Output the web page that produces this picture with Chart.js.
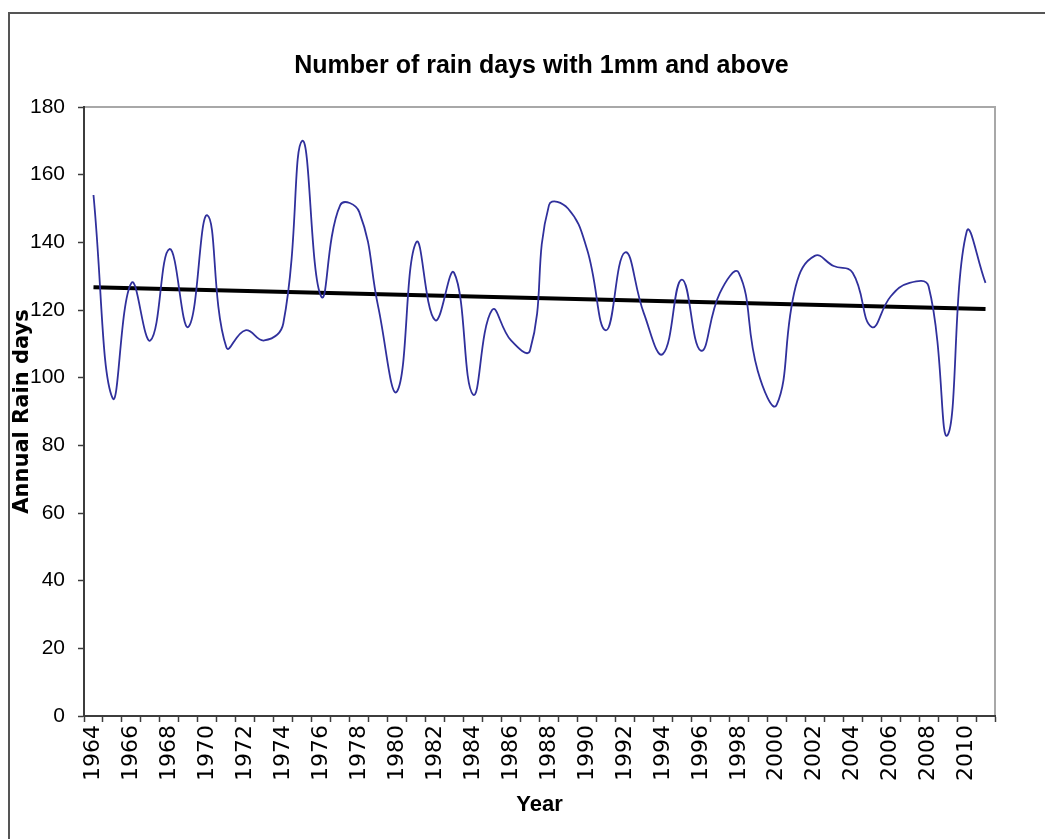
<!DOCTYPE html>
<html>
<head>
<meta charset="utf-8">
<title>Number of rain days with 1mm and above</title>
<script src="https://cdn.jsdelivr.net/npm/chart.js@4.4.1/dist/chart.umd.min.js"></script>
<style>
    html, body { margin: 0; padding: 0; background: #ffffff; }
    #wrap { width: 1045px; height: 839px; }
</style>
</head>
<body>
<div id="wrap"><canvas id="rainChart" width="1045" height="839"></canvas></div>
<script>
// Values
const chartTitle = 'Number of rain days with 1mm and above';

const years = ['1964', '1965', '1966', '1967', '1968', '1969', '1970', '1971', '1972', '1973',
               '1974', '1975', '1976', '1977', '1978', '1979', '1980', '1981', '1982', '1983',
               '1984', '1985', '1986', '1987', '1988', '1989', '1990', '1991', '1992', '1993',
               '1994', '1995', '1996', '1997', '1998', '1999', '2000', '2001', '2002', '2003',
               '2004', '2005', '2006', '2007', '2008', '2009', '2010', '2011'];

const rainDays = [154, 94, 128, 111, 138, 115, 148, 109, 114, 111,
                  116, 170, 124, 151, 149, 121, 96, 140, 117, 131,
                  95, 120, 111, 108, 151, 150, 138, 114, 137, 119,
                  107, 129, 108, 125, 131, 102, 92, 127, 136, 133,
                  131, 115, 124, 128, 127, 83, 143, 128];

// trend line end points (as drawn in the picture)
const trendYears = ['1964', '2011'];
const trendValues = [126.7, 120.3];

const yTicks = [0, 20, 40, 60, 80, 100, 120, 140, 160, 180];

const axisColor = '#3c3c3c';

// outer chart border, light grey plot frame (top and right) and the title
const framePlugin = {
    id: 'frame',
    beforeDraw(chart) {
        const ctx = chart.ctx;
        const a = chart.chartArea;
        ctx.save();
        ctx.fillStyle = '#ffffff';
        ctx.fillRect(0, 0, chart.width, chart.height);
        ctx.strokeStyle = '#555555';
        ctx.lineWidth = 2;
        ctx.beginPath();
        ctx.moveTo(9, chart.height + 5);
        ctx.lineTo(9, 13);
        ctx.lineTo(chart.width + 5, 13);
        ctx.stroke();

        ctx.strokeStyle = '#a8a8a8';
        ctx.lineWidth = 2;
        ctx.beginPath();
        ctx.moveTo(a.left, a.top);
        ctx.lineTo(a.right, a.top);
        ctx.lineTo(a.right, a.bottom);
        ctx.stroke();

        // title centred over the plot area
        ctx.fillStyle = '#000000';
        ctx.font = "bold 25px 'Liberation Sans', Arial, sans-serif";
        ctx.textAlign = 'center';
        ctx.textBaseline = 'middle';
        ctx.fillText(chartTitle, (a.left + a.right) / 2 + 2, 66);
        ctx.restore();
    }
};

const ctx = document.getElementById('rainChart').getContext('2d');
const rainChart = new Chart(ctx, {
    type: 'line',
    data: {
        labels: years,
        datasets: [
            {
                label: 'Annual Rain days',
                data: rainDays,
                borderColor: '#30309c',
                borderWidth: 1.8,
                pointRadius: 0,
                tension: 0.45,
                fill: false
            },
            {
                label: 'Trend',
                data: trendYears.map((y, i) => ({ x: y, y: trendValues[i] })),
                borderColor: '#000000',
                borderWidth: 4,
                pointRadius: 0,
                tension: 0,
                fill: false
            }
        ]
    },
    options: {
        responsive: false,
        animation: false,
        layout: {
            padding: { left: 0, right: 50, top: 107, bottom: 0 }
        },
        plugins: {
            legend: { display: false },
            tooltip: { enabled: false },
            title: { display: false }
        },
        scales: {
            x: {
                type: 'category',
                offset: true,
                grid: {
                    offset: true,
                    drawOnChartArea: false,
                    drawTicks: true,
                    tickLength: 6,
                    tickColor: axisColor,
                    tickWidth: 1.5
                },
                border: { color: axisColor, width: 2 },
                ticks: {
                    autoSkip: false,
                    maxRotation: 90,
                    minRotation: 90,
                    padding: 3,
                    color: '#000000',
                    font: { family: "'DejaVu Sans', sans-serif", size: 22 },
                    callback: function(value, index) {
                        return index % 2 === 0 ? years[index] : '';
                    }
                },
                title: {
                    display: true,
                    text: 'Year',
                    color: '#000000',
                    font: { family: "'Liberation Sans', Arial, sans-serif", size: 22, weight: 'bold' },
                    padding: { top: 0, bottom: 21 }
                },
                afterFit: function(scale) { scale.height = 123; }
            },
            y: {
                min: 0,
                max: 180,
                afterBuildTicks: function(scale) {
                    scale.ticks = yTicks.map(v => ({ value: v }));
                },
                grid: {
                    drawOnChartArea: false,
                    drawTicks: true,
                    tickLength: 6,
                    tickColor: axisColor,
                    tickWidth: 1.5
                },
                border: { color: axisColor, width: 2 },
                ticks: {
                    padding: 13,
                    color: '#000000',
                    font: { family: "'Liberation Sans', Arial, sans-serif", size: 21 }
                },
                title: {
                    display: true,
                    text: 'Annual Rain days',
                    color: '#000000',
                    font: { family: "'DejaVu Sans', sans-serif", size: 21, weight: 'bold' },
                    padding: { top: 10, bottom: 0 }
                },
                afterFit: function(scale) { scale.width = 84; }
            }
        }
    },
    plugins: [framePlugin]
});
</script>
</body>
</html>
